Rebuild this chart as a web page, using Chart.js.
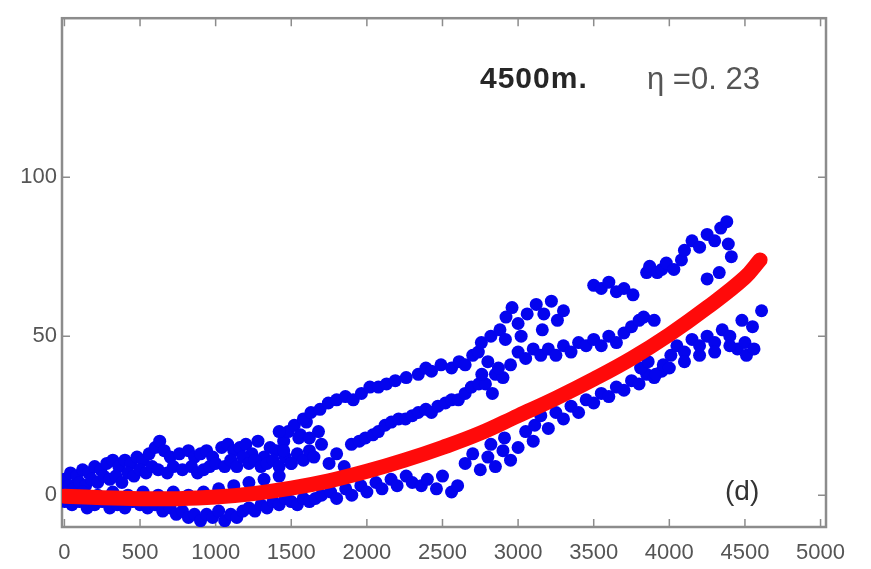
<!DOCTYPE html>
<html>
<head>
<meta charset="utf-8">
<script src="https://cdn.jsdelivr.net/npm/chart.js@4/dist/chart.umd.min.js"></script>
<style>
html,body{margin:0;padding:0;background:#fff;}
#c{display:block;}
</style>
</head>
<body>
<canvas id="c" width="871" height="569"></canvas>
<script>
// ---- data ----
const xTicks = [0,500,1000,1500,2000,2500,3000,3500,4000,4500,5000];
const yTicks = [0,50,100];

const blueX = [
 0,40,80,120,160,200,240,280,320,360,400,440,480,520,560,600,630,660,700,760,820,860,900,940,980,1040,1080,1120,1160,1200,1240,1280,1320,1360,1400,1450,1480,1520,1560,1600,
 0,30,60,100,140,180,220,260,300,340,380,420,460,500,540,580,620,680,720,780,840,880,920,960,1000,1060,1100,1140,1180,1220,1260,1300,1340,1380,1420,1460,1500,1540,1580,1620,
 0,50,100,150,200,250,300,350,400,450,500,550,600,650,700,740,780,820,860,900,940,980,1020,1060,1100,1140,1180,1220,1260,1300,1340,1380,1420,1460,1500,1540,1580,1620,
 20,120,220,320,420,520,620,720,820,920,1020,1120,1220,1320,1420,
 1660,1700,1760,1800,1860,1900,1960,2000,2060,2100,2160,2200,2260,2300,2360,2400,2460,2500,2560,2600,
 1420,1450,1500,1550,1580,1650,1700,1750,1800,1850,1680,1620,
 1630,1690,1745,1800,1858,1910,1964,2020,2076,2130,2188,2260,2340,2390,2427,2490,2560,2610,2650,2700,2737,2757,2820,2880,2916,2920,2960,3000,3020,3060,3120,3160,3170,3220,3260,3300,
 3500,3550,3600,3650,3700,3760,3850,3870,3920,3950,3980,4030,4080,4100,4150,4200,4250,4300,4340,4380,4390,4410,
 1898,1950,1990,2040,2076,2120,2162,2210,2255,2300,2340,2390,2427,2470,2519,2560,2605,2650,2691,2740,2784,2830,2850,2900,2760,2800,2870,2950,3000,3050,3100,3150,3200,3250,3300,3350,3400,3450,3500,3550,3600,3650,3700,3750,3800,3830,3900,4250,4330,
 2650,2700,2750,2800,2850,2900,2950,2820,2910,3000,3050,3100,3110,3150,3200,3250,3300,3350,3400,3450,3500,3550,3600,3650,3700,3750,3800,3850,3900,3950,3810,3860,3910,3960,4000,4010,4050,4100,4150,4200,4250,4300,4350,4400,4450,4500,4550,4480,4610,4100,4200,4300,4400,4510,4560
];
const blueY = [
 5,7,6,8,7,9,8,10,11,9,11,10,12,11,13,15,17,14,12,13,14,12,13,14,12,15,16,14,15,16,13,17,12,15,14,17,20,22,19,23,
 2,3,2,4,3,5,4,6,5,6,4,7,6,8,7,9,8,7,9,8,9,7,8,9,10,9,11,9,12,10,11,9,10,11,9,12,10,13,11,14,
 -2,-3,-2,-4,-3,-2,-4,-3,-4,-2,-3,-4,-3,-5,-4,-6,-5,-7,-6,-8,-6,-7,-5,-8,-6,-7,-5,-4,-5,-3,-4,-2,-3,-1,-2,-3,-1,-2,
 0,1,0,1,0,1,0,1,0,1,2,3,4,5,6,
 -1,0,1,-1,2,0,3,1,4,2,5,3,6,4,3,5,2,6,1,3,
 20,14,10,18,24,12,16,10,13,9,20,18,
 26,27,29,30,31,30,32,34,34,35,36,37,38,40,39,41,40,42,41,44,45,48,50,52,49,56,59,54,50,57,60,52,57,61,55,58,
 66,65,67,64,65,63,70,72,70,71,73,71,74,77,80,78,82,80,84,86,79,75,
 16,17,18,19,20,22,23,24,24,25,26,27,26,28,29,30,30,32,34,35,35,32,38,37,38,42,40,41,45,43,46,44,46,44,47,45,48,47,49,47,50,48,51,53,55,56,55,68,70,
 10,13,8,12,9,14,11,16,18,15,20,17,22,25,21,26,24,28,26,30,29,32,31,34,33,36,35,38,37,39,40,42,38,41,40,44,47,45,49,47,50,48,52,50,46,48,53,55,58,42,44,45,47,44,46
];

const redX = [0,250,500,750,1000,1250,1500,1750,2000,2250,2500,2750,3000,3250,3500,3750,4000,4250,4500,4600];
const redY = [-0.3,-0.8,-1.1,-1.1,-0.6,0.5,2.2,4.5,7.5,11,15,19.5,25,30.5,36.5,43,50.5,59,68.5,74];

const noteLeft = "4500m.";
const noteRight = "\u03b7 =0. 23";
const panelLabel = "(d)";

// ---- build datasets ----
const bluePts = blueX.map((x,i)=>({x:x,y:blueY[i]}));
const redPts = redX.map((x,i)=>({x:x,y:redY[i]}));

const FONT = "'Liberation Sans',Arial,sans-serif";
const AXIS = '#8c8c8c';

const framePlugin = {
  id:'frame',
  beforeDatasetsDraw(chart){
    const {ctx, chartArea:a, scales} = chart;
    ctx.save();
    ctx.strokeStyle = AXIS;
    ctx.lineWidth = 1.5;
    ctx.beginPath();
    xTicks.forEach(v=>{
      const p = scales.x.getPixelForValue(v);
      ctx.moveTo(p,a.bottom); ctx.lineTo(p,a.bottom-8);
      ctx.moveTo(p,a.top); ctx.lineTo(p,a.top+8);
    });
    yTicks.forEach(v=>{
      const p = scales.y.getPixelForValue(v);
      ctx.moveTo(a.left,p); ctx.lineTo(a.left+8,p);
      ctx.moveTo(a.right,p); ctx.lineTo(a.right-8,p);
    });
    ctx.stroke();
    ctx.lineWidth = 2.5;
    ctx.strokeRect(a.left,a.top,a.right-a.left,a.bottom-a.top);
    ctx.restore();
  },
  afterDraw(chart){
    const {ctx} = chart;
    ctx.save();
    ctx.textBaseline = 'middle';
    ctx.fillStyle = '#262626';
    ctx.font = "bold 30px 'Liberation Sans',Arial,sans-serif";
    if ('letterSpacing' in ctx) ctx.letterSpacing = '1px';
    ctx.fillText(noteLeft, 480, 80);
    if ('letterSpacing' in ctx) ctx.letterSpacing = '0px';
    ctx.fillStyle = '#555';
    ctx.font = "31px 'Liberation Sans',Arial,sans-serif";
    ctx.fillText(noteRight, 647, 80);
    ctx.fillStyle = '#333';
    ctx.font = "28px 'Liberation Sans',Arial,sans-serif";
    ctx.fillText(panelLabel, 725, 492);
    ctx.restore();
  }
};

new Chart(document.getElementById('c'), {
  type:'scatter',
  data:{
    datasets:[
      {label:'fit', type:'line', data:redPts, borderColor:'#ff0a0a', borderWidth:15, pointRadius:0, tension:0.4, fill:false, borderCapStyle:'round', order:0},
      {label:'data', data:bluePts, backgroundColor:'#0404ee', borderColor:'#0404ee', pointRadius:6.5, borderWidth:0, order:1}
    ]
  },
  options:{
    responsive:false,
    animation:false,
    events:[],
    layout:{padding:{left:0,top:11,right:45,bottom:0}},
    plugins:{legend:{display:false}, tooltip:{enabled:false}},
    scales:{
      x:{
        type:'linear', min:-16, max:5036,
        afterBuildTicks(s){ s.ticks = xTicks.map(v=>({value:v})); },
        afterFit(s){ s.height = 42; },
        grid:{display:false, drawTicks:false},
        border:{display:false},
        ticks:{color:'#555', padding:13, maxRotation:0, autoSkip:false, font:{family:FONT, size:22}, callback:v=>String(v)}
      },
      y:{
        type:'linear', min:-10, max:150,
        afterBuildTicks(s){ s.ticks = yTicks.map(v=>({value:v})); },
        afterFit(s){ s.width = 62; },
        grid:{display:false, drawTicks:false},
        border:{display:false},
        ticks:{color:'#555', padding:5, autoSkip:false, font:{family:FONT, size:22}, callback:v=>String(v)}
      }
    }
  },
  plugins:[framePlugin]
});
</script>
</body>
</html>
